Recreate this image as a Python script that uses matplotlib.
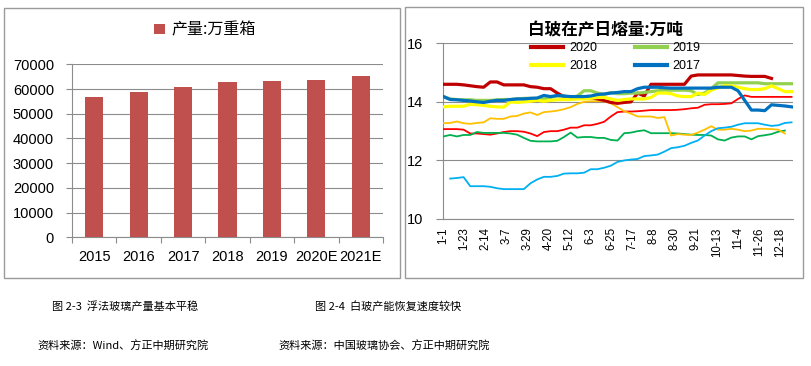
import numpy as np
import matplotlib
matplotlib.use("Agg")
import matplotlib.pyplot as plt
from matplotlib.patches import Rectangle
from matplotlib.lines import Line2D

plt.rcParams['font.family'] = ['Liberation Sans', 'Noto Sans CJK SC', 'DejaVu Sans']
CJK = ['Noto Sans CJK SC', 'DejaVu Sans']
nan = np.nan

# ---------------- left chart data ----------------
years = ['2015', '2016', '2017', '2018', '2019', '2020E', '2021E']
output = [56800, 58800, 60800, 62900, 63300, 63700, 65300]
bar_label = '产量:万重箱'

# ---------------- right chart data (weekly, week 0 = 1-1) ----------------
day_labels = ['1-1', '1-23', '2-14', '3-7', '3-29', '4-20', '5-12', '6-3', '6-25',
              '7-17', '8-8', '8-30', '9-21', '10-13', '11-4', '11-26', '12-18']
n_days = 366
label_step = 22

s2020 = [14.6, 14.6, 14.6, 14.58, 14.55, 14.52, 14.5, 14.68, 14.68, 14.58,
         14.58, 14.58, 14.58, 14.52, 14.5, 14.45, 14.45, 14.3, 14.18, 14.14,
         14.14, 14.14, 14.14, 14.1, 14.05, 13.98, 13.95, 13.98, 14.0, 14.3,
         14.2, 14.6, 14.6, 14.6, 14.6, 14.6, 14.6, 14.88, 14.92, 14.92,
         14.92, 14.92, 14.92, 14.92, 14.9, 14.88, 14.87, 14.87, 14.87, 14.8,
         nan, nan, nan]
s2019 = [14.18, 14.1, 14.08, 14.07, 14.07, 14.05, 14.05, 14.05, 14.07, 14.08,
         14.08, 14.1, 14.12, 14.12, 14.12, 14.1, 14.15, 14.2, 14.2, 14.15,
         14.2, 14.38, 14.38, 14.3, 14.25, 14.32, 14.28, 14.28, 14.3, 14.3,
         14.32, 14.35, 14.38, 14.4, 14.4, 14.4, 14.4, 14.38, 14.25, 14.3,
         14.45, 14.65, 14.65, 14.65, 14.65, 14.65, 14.65, 14.65, 14.62, 14.62,
         14.62, 14.62, 14.62]
s2018 = [13.83, 13.85, 13.85, 13.85, 13.92, 13.9, 13.88, 13.85, 13.83, 13.82,
         14.0, 13.98, 14.0, 14.02, 14.05, 14.02, 14.05, 14.07, 14.08, 14.08,
         14.1, 14.1, 14.12, 14.15, 14.15, 14.1, 14.05, 14.08, 14.1, 14.1,
         14.1, 14.15, 14.3, 14.3, 14.28, 14.2, 14.18, 14.18, 14.3, 14.25,
         14.4, 14.48, 14.55, 14.55, 14.5, 14.45, 14.42, 14.42, 14.45, 14.55,
         14.45, 14.35, 14.35]
s2017 = [14.18, 14.08, 14.07, 14.05, 14.03, 14.0, 13.98, 14.02, 14.05, 14.05,
         14.08, 14.1, 14.1, 14.12, 14.13, 14.22, 14.18, 14.22, 14.2, 14.18,
         14.18, 14.18, 14.2, 14.25, 14.27, 14.3, 14.32, 14.35, 14.35, 14.45,
         14.5, 14.5, 14.5, 14.48, 14.47, 14.47, 14.47, 14.47, 14.47, 14.47,
         14.47, 14.5, 14.5, 14.5, 14.38, 14.05, 13.72, 13.72, 13.7, 13.9,
         13.88, 13.86, 13.83]
thin_orange = [13.27, 13.28, 13.33, 13.27, 13.25, 13.28, 13.3, 13.44, 13.42, 13.42,
               13.5, 13.52, 13.6, 13.64, 13.55, 13.65, 13.67, 13.7, 13.75, 13.82,
               13.93, 14.0, 14.02, 14.02, 14.02, 13.95, 13.82, 13.68, 13.6, 13.5,
               13.5, 13.5, 13.45, 13.48, 12.85, 12.9, 12.88, 12.87, 12.95, 13.05,
               13.17, 13.05, 13.05, 13.08, 13.05, 13.0, 13.02, 13.08, 13.08, 13.07,
               13.05, 12.92, nan]
thin_red = [13.07, 13.07, 13.07, 13.05, 12.92, 12.92, 12.9, 12.88, 12.92, 12.97,
            13.0, 13.0, 12.98, 12.92, 12.83, 12.97, 13.0, 13.0, 13.05, 13.12,
            13.12, 13.2, 13.2, 13.25, 13.32, 13.5, 13.65, 13.67, 13.67, 13.68,
            13.7, 13.72, 13.72, 13.72, 13.72, 13.73, 13.75, 13.78, 13.8, 13.9,
            13.92, 13.92, 13.93, 13.95, 14.1, 14.22, 14.17, 14.17, 14.17, 14.17,
            14.17, 14.17, 14.17]
thin_green = [12.82, 12.87, 12.82, 12.87, 12.87, 12.97, 12.94, 12.94, 12.94, 12.94,
              12.92, 12.88, 12.77, 12.67, 12.65, 12.65, 12.65, 12.67, 12.8, 12.95,
              12.78, 12.8, 12.8, 12.77, 12.77, 12.7, 12.68, 12.93, 12.95, 13.0,
              13.03, 12.93, 12.93, 12.93, 12.93, 12.92, 12.9, 12.88, 12.87, 12.87,
              12.85, 12.72, 12.68, 12.78, 12.82, 12.82, 12.72, 12.83, 12.86, 12.9,
              12.98, 13.02, nan]
thin_lightblue = [nan, 11.38, 11.4, 11.43, 11.12, 11.12, 11.12, 11.1, 11.05, 11.02,
                  11.02, 11.02, 11.02, 11.22, 11.35, 11.44, 11.44, 11.47, 11.55, 11.56,
                  11.56, 11.58, 11.7, 11.7, 11.75, 11.82, 11.95, 12.0, 12.03, 12.05,
                  12.15, 12.17, 12.2, 12.3, 12.42, 12.45, 12.5, 12.6, 12.68, 12.85,
                  13.0, 13.1, 13.12, 13.15, 13.22, 13.27, 13.27, 13.27, 13.22, 13.18,
                  13.2, 13.28, 13.3]

W, H = 812, 366
fig = plt.figure(figsize=(W / 100, H / 100), dpi=100)

def fx(px):
    return px / W

def fy(py):
    return 1 - py / H

# chart borders
fig.add_artist(Rectangle((fx(4), fy(278)), fx(400) - fx(4), fy(8) - fy(278),
                         transform=fig.transFigure, fill=False, ec='#9a9a9a', lw=1.0))
fig.add_artist(Rectangle((fx(405), fy(278)), fx(803) - fx(405), fy(7) - fy(278),
                         transform=fig.transFigure, fill=False, ec='#9a9a9a', lw=1.0))

grid_c = '#8c8c8c'

# ---------------- left: bar chart ----------------
ax1 = fig.add_axes([fx(72), fy(237.3), fx(383) - fx(72), fy(64.3) - fy(237.3)])
x = np.arange(len(years))
bars = ax1.bar(x, output, width=0.41, color='#C0504D', zorder=3, label=bar_label)
ax1.set_xlim(-0.5, len(years) - 0.5)
ax1.set_ylim(0, 70000)
ax1.set_yticks(np.arange(0, 70001, 10000))
ax1.set_yticklabels([str(v) for v in range(0, 70001, 10000)], fontsize=10.5)
ax1.yaxis.grid(True, color=grid_c, lw=0.8, zorder=0)
ax1.tick_params(axis='y', length=4, color=grid_c, width=0.8, pad=9)
ax1.set_xticks(x)
ax1.set_xticklabels(years, fontsize=10.5)
ax1.set_xticks(np.arange(-0.5, len(years)), minor=True)
ax1.tick_params(axis='x', which='major', length=0, pad=9)
ax1.tick_params(axis='x', which='minor', length=4, color=grid_c, width=0.8)
for s in ['top', 'right']:
    ax1.spines[s].set_visible(False)
for s in ['left', 'bottom']:
    ax1.spines[s].set_color(grid_c)
    ax1.spines[s].set_linewidth(0.8)
fig.legend(handles=[bars], labels=[bar_label], loc='center',
           bbox_to_anchor=(fx(205), fy(30)), frameon=False,
           prop={'family': CJK, 'size': 11.5}, handlelength=0.65, handleheight=0.65,
           handletextpad=0.4)

# ---------------- right: line chart ----------------
ax2 = fig.add_axes([fx(443), fy(219), fx(793) - fx(443), fy(43.3) - fy(219)])
days = np.arange(53) * 7

thin = [(thin_red, '#FF0000'), (thin_green, '#00B050'),
        (thin_orange, '#FFC000'), (thin_lightblue, '#00B0F0')]
for vals, c in thin:
    ax2.plot(days, vals, color=c, lw=1.3, zorder=3)

thick = [('2020', s2020, '#C00000'), ('2019', s2019, '#92D050'),
         ('2018', s2018, '#FFFF00'), ('2017', s2017, '#0070C0')]
handles = {}
for name, vals, c in thick:
    ax2.plot(days, vals, color=c, lw=2.3, zorder=4)
    handles[name] = Line2D([], [], color=c, lw=3.0, label=name)

ax2.set_xlim(-0.5, n_days - 0.5)
ax2.set_ylim(10, 16)
ax2.set_yticks([10, 12, 14, 16])
ax2.set_yticklabels(['10', '12', '14', '16'], fontsize=10.5)
ax2.yaxis.grid(True, color=grid_c, lw=0.8, zorder=0)
ax2.tick_params(axis='y', length=5, color=grid_c, width=0.8, pad=9)
ax2.set_xticks(np.arange(0, n_days, label_step)[:len(day_labels)])
ax2.set_xticklabels(day_labels, rotation=90, fontsize=8.3)
ax2.tick_params(axis='x', length=0, pad=6)
for s in ['top', 'right']:
    ax2.spines[s].set_visible(False)
for s in ['left', 'bottom']:
    ax2.spines[s].set_color(grid_c)
    ax2.spines[s].set_linewidth(0.8)

fig.text(fx(605), fy(30), '白玻在产日熔量:万吨', ha='center', va='center',
         fontsize=12, fontweight='bold', family=CJK)
# column-major fill so that rows read 2020, 2019 / 2018, 2017
leg_order = ['2020', '2018', '2019', '2017']
fig.legend(handles=[handles[k] for k in leg_order], labels=leg_order, ncol=2,
           loc='upper left', bbox_to_anchor=(fx(531), fy(42)), frameon=False,
           fontsize=9, handlelength=2.6, handletextpad=0.45, columnspacing=3.0,
           labelspacing=0.5, borderpad=0, borderaxespad=0)

# ---------------- captions ----------------
cap = dict(ha='center', va='center', fontsize=8.0, family=CJK, color='#000000')
fig.text(fx(125), fy(306.5), '图 2-3  浮法玻璃产量基本平稳', **cap)
fig.text(fx(388), fy(306.5), '图 2-4  白玻产能恢复速度较快', **cap)
fig.text(fx(123), fy(346.5), '资料来源：Wind、方正中期研究院', **cap)
fig.text(fx(384), fy(346.5), '资料来源：中国玻璃协会、方正中期研究院', **cap)

fig.savefig('out.png', dpi=100)
